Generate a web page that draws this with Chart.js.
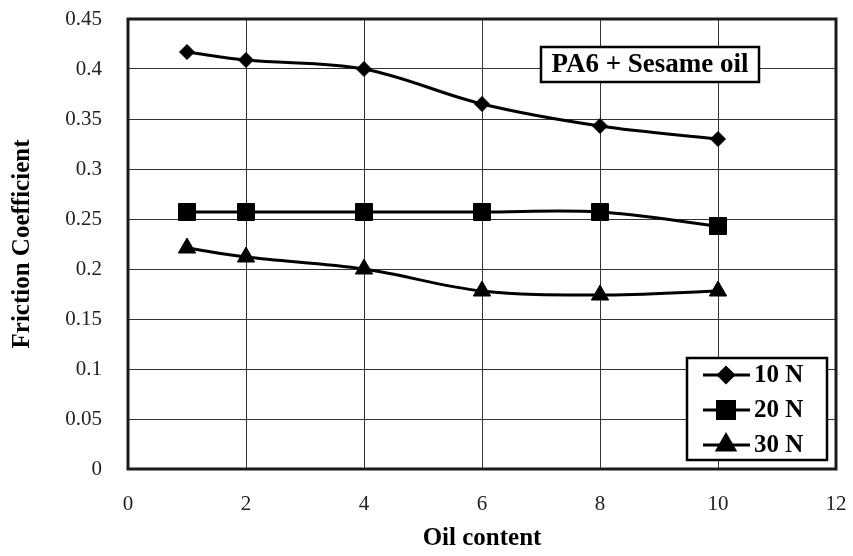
<!DOCTYPE html>
<html>
<head>
<meta charset="utf-8">
<script src="https://cdn.jsdelivr.net/npm/chart.js@4/dist/chart.umd.min.js"></script>
<style>
  html, body { margin: 0; padding: 0; background: #fff; }
  #wrap { width: 853px; height: 556px; }
</style>
</head>
<body>
<div id="wrap"><canvas id="c" width="853" height="556"></canvas></div>
<script>
// Friction coefficient of PA6 with sesame oil, by oil content and load
const oilContent = [1, 2, 4, 6, 8, 10];
const load10N = [0.417, 0.409, 0.400, 0.365, 0.343, 0.330];
const load20N = [0.257, 0.257, 0.257, 0.257, 0.257, 0.243];
const load30N = [0.221, 0.212, 0.200, 0.178, 0.174, 0.178];
const seriesLabels = ['10 N', '20 N', '30 N'];
const xTicks = [0, 2, 4, 6, 8, 10, 12];
const yTicks = [0, 0.05, 0.1, 0.15, 0.2, 0.25, 0.3, 0.35, 0.4, 0.45];
const noteText = 'PA6 + Sesame oil';
const xTitle = 'Oil content';
const yTitle = 'Friction Coefficient';

const serif = '"Liberation Serif", "Times New Roman", serif';

function toPoints(values) {
  return oilContent.map((x, i) => ({ x: x, y: values[i] }));
}

const markerStyles = [
  { pointStyle: 'rectRot', radius: 7.5 },
  { pointStyle: 'rect', radius: 12 },
  { pointStyle: 'triangle', radius: 10 }
];

const datasets = [load10N, load20N, load30N].map((vals, i) => ({
  label: seriesLabels[i],
  data: toPoints(vals),
  borderColor: '#000',
  backgroundColor: '#000',
  borderWidth: 3,
  tension: 0.35,
  pointStyle: markerStyles[i].pointStyle,
  pointRadius: markerStyles[i].radius,
  pointHoverRadius: markerStyles[i].radius,
  pointBackgroundColor: '#000',
  pointBorderColor: '#000',
  pointBorderWidth: 1
}));

// Frame around the plot area, the caption box and the boxed legend
const overlay = {
  id: 'overlay',
  afterDatasetsDraw(chart) {
    const ctx = chart.ctx;
    const a = chart.chartArea;
    ctx.save();
    ctx.strokeStyle = '#1a1a1a';
    ctx.lineWidth = 3;
    ctx.strokeRect(a.left, a.top, a.right - a.left, a.bottom - a.top);
    ctx.restore();
  },
  afterDraw(chart) {
    const ctx = chart.ctx;
    ctx.save();

    // caption box
    const nb = { x: 541, y: 47, w: 218, h: 35 };
    ctx.fillStyle = '#fff';
    ctx.fillRect(nb.x, nb.y, nb.w, nb.h);
    ctx.strokeStyle = '#000';
    ctx.lineWidth = 2.5;
    ctx.strokeRect(nb.x, nb.y, nb.w, nb.h);
    ctx.fillStyle = '#000';
    ctx.font = 'bold 27px ' + serif;
    ctx.textAlign = 'center';
    ctx.textBaseline = 'middle';
    ctx.fillText(noteText, nb.x + nb.w / 2, nb.y + nb.h / 2 + 1);

    // legend box
    const lb = { x: 687, y: 358, w: 140, h: 102 };
    ctx.fillStyle = '#fff';
    ctx.fillRect(lb.x, lb.y, lb.w, lb.h);
    ctx.strokeStyle = '#000';
    ctx.lineWidth = 2.5;
    ctx.strokeRect(lb.x, lb.y, lb.w, lb.h);
    ctx.font = 'bold 25px ' + serif;
    ctx.textAlign = 'left';
    ctx.textBaseline = 'middle';
    chart.data.datasets.forEach((ds, i) => {
      const y = 375 + i * 35;
      ctx.strokeStyle = '#000';
      ctx.lineWidth = 3;
      ctx.beginPath();
      ctx.moveTo(703, y);
      ctx.lineTo(750, y);
      ctx.stroke();
      ctx.fillStyle = '#000';
      Chart.helpers.drawPoint(ctx, {
        pointStyle: ds.pointStyle,
        radius: ds.pointRadius,
        rotation: 0,
        borderWidth: 1
      }, 726, y);
      ctx.fillStyle = '#000';
      ctx.fillText(ds.label, 754, y + 1);
    });
    ctx.restore();
  }
};

new Chart(document.getElementById('c'), {
  type: 'line',
  data: { datasets: datasets },
  plugins: [overlay],
  options: {
    responsive: false,
    devicePixelRatio: 1,
    animation: false,
    layout: { padding: { left: 0, top: 19, right: 17, bottom: 0 } },
    plugins: {
      legend: { display: false },
      tooltip: { enabled: false }
    },
    scales: {
      x: {
        type: 'linear',
        min: xTicks[0],
        max: xTicks[xTicks.length - 1],
        afterBuildTicks(scale) { scale.ticks = xTicks.map(v => ({ value: v })); },
        afterFit(scale) {
          scale.height = 87;
          scale.paddingLeft = 0;
          scale.paddingRight = 0;
        },
        grid: { color: '#333', lineWidth: 1, drawTicks: false },
        border: { display: false },
        ticks: {
          padding: 23,
          color: '#222',
          font: { family: serif, size: 21 },
          callback: v => String(v)
        },
        title: {
          display: true,
          text: xTitle,
          color: '#000',
          font: { family: serif, size: 25, weight: 'bold' },
          padding: { top: 0, bottom: 2 }
        }
      },
      y: {
        type: 'linear',
        min: yTicks[0],
        max: yTicks[yTicks.length - 1],
        afterBuildTicks(scale) { scale.ticks = yTicks.map(v => ({ value: v })); },
        afterFit(scale) {
          scale.width = 128;
          scale.paddingTop = 0;
          scale.paddingBottom = 0;
        },
        grid: { color: '#333', lineWidth: 1, drawTicks: false },
        border: { display: false },
        ticks: {
          padding: 26,
          color: '#222',
          font: { family: serif, size: 21 },
          callback: v => String(Number(v.toFixed(2)))
        },
        title: {
          display: true,
          text: yTitle,
          color: '#000',
          font: { family: serif, size: 25, weight: 'bold' },
          padding: { top: 8, bottom: 0 }
        }
      }
    }
  }
});
</script>
</body>
</html>
